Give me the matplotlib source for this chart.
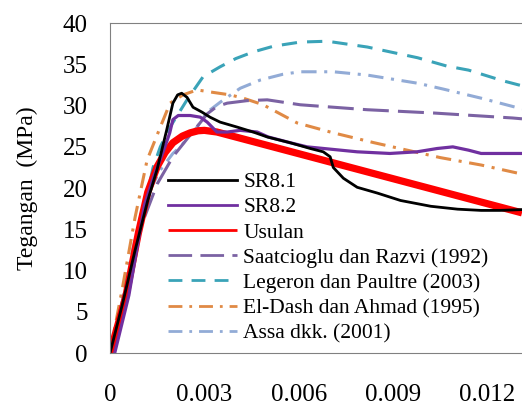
import matplotlib.pyplot as plt

# strain (-) and stress (MPa)
sr81_x = [0, 0.0004, 0.0008, 0.0012, 0.0015, 0.0018, 0.002, 0.00215, 0.00228, 0.00245, 0.00264,
          0.00293, 0.00318, 0.0035, 0.00404, 0.00455, 0.005, 0.00573, 0.00637, 0.00678, 0.007,
          0.0071, 0.00742, 0.00786, 0.0085, 0.00924, 0.0102, 0.01105, 0.0118, 0.0124, 0.0131]
sr81_y = [0, 6, 12.5, 18.5, 22.3, 27, 30.3, 31.3, 31.5, 31, 29.8,
          29.2, 28.6, 28, 27.4, 26.8, 26.2, 25.5, 24.8, 24.4, 23.8,
          22.5, 21.2, 20.1, 19.4, 18.5, 17.8, 17.45, 17.3, 17.3, 17.4]

sr82_x = [0.00015, 0.0006, 0.0011, 0.0014, 0.0017, 0.0019, 0.002, 0.00217, 0.00255, 0.00287,
          0.00309, 0.0034, 0.00373, 0.00414, 0.00468, 0.00503, 0.00573, 0.00627, 0.0068,
          0.00786, 0.0089, 0.00976, 0.0104, 0.0109, 0.0114, 0.0118, 0.0123, 0.0131]
sr82_y = [0, 7, 18, 21.5, 24.5, 26.7, 28.3, 28.8, 28.8, 28.6,
          28.0, 26.8, 26.8, 27.0, 26.8, 26.2, 25.5, 25.0, 24.8,
          24.4, 24.2, 24.4, 24.8, 25.0, 24.6, 24.2, 24.2, 24.2]

usulan_x = [0, 0.0005, 0.0009, 0.0012, 0.0015, 0.00175, 0.002, 0.0023, 0.00255, 0.0028,
            0.003, 0.0034, 0.0131]
usulan_y = [0, 6.8, 14.5, 19.5, 22.6, 24.3, 25.5, 26.3, 26.7, 26.95,
            27.0, 26.8, 17.0]

saat_x = [0, 0.0005, 0.001, 0.0015, 0.002, 0.0025, 0.0028, 0.00309, 0.0034, 0.00373, 0.00436,
          0.005, 0.00605, 0.00818, 0.0103, 0.0128, 0.0131]
saat_y = [0, 8, 15.5, 20.5, 23.8, 26.2, 27.6, 29.0, 29.9, 30.3, 30.6,
          30.7, 30.1, 29.5, 29.1, 28.5, 28.4]

leg_x = [0, 0.0005, 0.001, 0.00137, 0.0016, 0.00191, 0.00245, 0.00296, 0.0035, 0.004, 0.00455,
         0.0052, 0.00605, 0.00691, 0.00818, 0.00978, 0.0107, 0.0114, 0.0125, 0.0131]
leg_y = [0, 7.5, 16, 22.5, 25, 27.4, 30.7, 33.5, 34.7, 35.7, 36.5,
         37.2, 37.7, 37.8, 37.1, 35.8, 34.8, 34.3, 33.0, 32.4]

eldash_x = [0, 0.0004, 0.0008, 0.00118, 0.0016, 0.00191, 0.00232, 0.00277, 0.00328, 0.00382,
            0.00424, 0.00487, 0.00595, 0.0071, 0.0084, 0.0105, 0.0118, 0.0131]
eldash_y = [0, 8, 16.5, 23.4, 27.4, 30.3, 31.3, 31.9, 31.6, 31.3,
            30.9, 30.1, 27.9, 26.7, 25.5, 23.7, 22.8, 21.7]

assa_x = [0, 0.0005, 0.001, 0.0013, 0.0016, 0.002, 0.00223, 0.0025, 0.00277, 0.00309, 0.0035,
          0.00414, 0.00478, 0.0055, 0.00605, 0.0071, 0.00818, 0.0098, 0.0106, 0.0118, 0.0131]
assa_y = [0, 9, 17, 20, 22.2, 24.2, 25, 26.2, 27.4, 29.2, 30.4,
          32.1, 33.1, 33.8, 34.1, 34.1, 33.7, 32.7, 32.0, 30.9, 29.6]

xticks = [0, 0.003, 0.006, 0.009, 0.012]
xtick_labels = ["0", "0.003", "0.006", "0.009", "0.012"]
yticks = list(range(0, 41, 5))

plt.rcParams['font.family'] = ['Liberation Serif', 'DejaVu Serif']

fig = plt.figure(figsize=(5.22, 4.05), dpi=100)
ax = fig.add_axes([0.2107, 0.128, 0.7893, 0.815])

kw = dict(solid_joinstyle='round', dash_joinstyle='round')
ax.plot(leg_x, leg_y, color="#3aa3b8", lw=2.2, dashes=(5, 3.3), label="Legeron dan Paultre (2003)", **kw)
ax.plot(assa_x, assa_y, color="#92abd6", lw=2.2, dashes=(5, 2.5, 1, 2.5), label="Assa dkk. (2001)", **kw)
ax.plot(eldash_x, eldash_y, color="#e08a45", lw=2.2, dashes=(5, 2.5, 1, 2.5), label="El-Dash dan Ahmad (1995)", **kw)
ax.plot(saat_x, saat_y, color="#7b62a3", lw=2.2, dashes=(8.5, 3), label="Saatcioglu dan Razvi (1992)", **kw)
ax.plot(usulan_x, usulan_y, color="#ff0000", lw=5.2, solid_capstyle='butt', label="Usulan", **kw)
ax.plot(sr82_x, sr82_y, color="#7030a0", lw=2.3, label="SR8.2", **kw)
ax.plot(sr81_x, sr81_y, color="black", lw=2.0, label="SR8.1", **kw)

ax.set_xlim(0, 0.0131)
ax.set_ylim(0, 40)
ax.set_xticks(xticks)
ax.set_xticklabels(xtick_labels)
ax.set_yticks(yticks)
ax.tick_params(length=0, labelsize=18)
ax.tick_params(axis='y', pad=16)
ax.tick_params(axis='x', pad=22)
ax.set_ylabel("Tegangan  (MPa)", fontsize=17, labelpad=18)
for s in ["left", "top", "bottom"]:
    ax.spines[s].set_color("#808080")
ax.spines["right"].set_visible(False)

handles, labels = ax.get_legend_handles_labels()
order = ["SR8.1", "SR8.2", "Usulan", "Saatcioglu dan Razvi (1992)",
         "Legeron dan Paultre (2003)", "El-Dash dan Ahmad (1995)", "Assa dkk. (2001)"]
h = [handles[labels.index(n)] for n in order]
leg = ax.legend(h, order, loc="upper left", bbox_to_anchor=(168 / 522, 1 - 172 / 405),
                bbox_transform=fig.transFigure, frameon=False, fontsize=15.5,
                handlelength=3.2, handletextpad=0.3, labelspacing=0.24,
                borderpad=0, borderaxespad=0)
for line in leg.get_lines():
    line.set_linewidth(2.0)

fig.savefig("out.png", dpi=100)
